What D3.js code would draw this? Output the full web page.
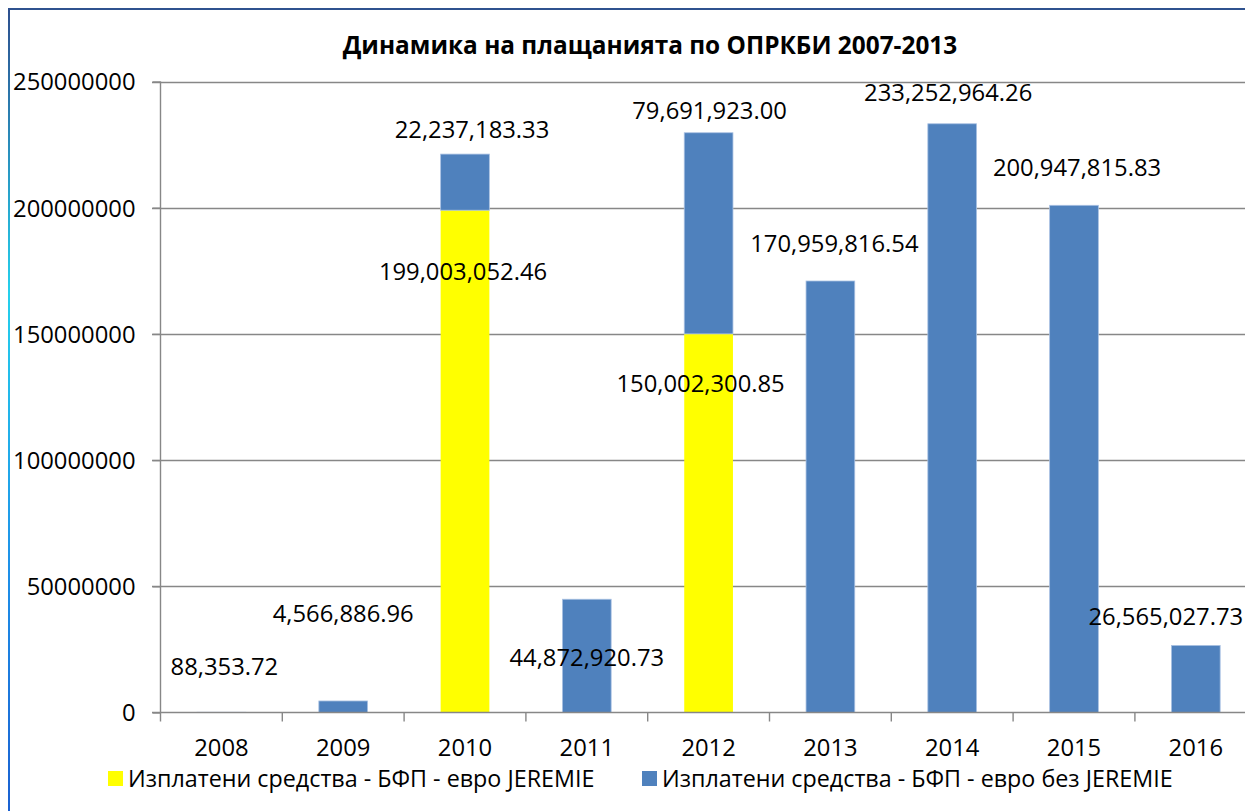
<!DOCTYPE html>
<html>
<head>
<meta charset="utf-8">
<script src="https://cdn.jsdelivr.net/npm/d3@7"></script>
<style>
  body { margin: 0; background: #fff; }
  text { font-family: 'Open Sans', 'Noto Sans', sans-serif; fill: #000; }
</style>
</head>
<body>
<div id="chart"></div>
<script>
// Data
let years = ['2008', '2009', '2010', '2011', '2012', '2013', '2014', '2015', '2016'];
let jeremie = [0, 0, 199003052.46, 0, 150002300.85, 0, 0, 0, 0];
let noJeremie = [88353.72, 4566886.96, 22237183.33, 44872920.73, 79691923.00, 170959816.54, 233252964.26, 200947815.83, 26565027.73];
let yTicks = [0, 50000000, 100000000, 150000000, 200000000, 250000000];
let seriesNames = ['Изплатени средства - БФП - евро JEREMIE', 'Изплатени средства - БФП - евро без JEREMIE'];

// hand placed data labels in the original (dx from band centre, dy from bar top)
let nudgeYellow = [null, null, [-2, 70], null, [-8, 58], null, null, null, null];
let nudgeBlue = [[3, -37], [0, -79], [7, -16], [0, 67], [1, -14], [4, -29], [-4, -23], [3, -29], [-30, -20]];

let width = 1245;
let height = 811;
let colors = ['#FFFF00', '#4F81BD'];

let svg = d3.select('#chart')
	.append('svg')
	.attr('width', width)
	.attr('height', height);

// frame with gradient on left edge
let grad = svg.append('defs').append('linearGradient')
	.attr('id', 'edge')
	.attr('x1', 0).attr('y1', 0).attr('x2', 0).attr('y2', 1);
grad.append('stop').attr('offset', '0%').attr('stop-color', '#2E4F8E');
grad.append('stop').attr('offset', '35%').attr('stop-color', '#25D0EC');
grad.append('stop').attr('offset', '70%').attr('stop-color', '#1E8FE8');
grad.append('stop').attr('offset', '100%').attr('stop-color', '#1A5FD0');

svg.append('rect')
	.attr('x', 9).attr('y', 9)
	.attr('width', 1300).attr('height', 900)
	.attr('fill', 'white')
	.attr('stroke', '#2F528F')
	.attr('stroke-width', 2);
svg.append('rect')
	.attr('x', 8).attr('y', 9)
	.attr('width', 2).attr('height', 810)
	.attr('fill', 'url(#edge)');

// scales
let x = d3.scaleBand()
	.domain(years)
	.range([160.5, 160.5 + 9 * 121.8])
	.padding(0);

let y = d3.scaleLinear()
	.domain([0, 250000000])
	.range([712.5, 81.5]);

let barW = x.bandwidth() * 0.4;
let g = svg.append('g');

// gridlines
g.selectAll('.grid')
	.data(yTicks.slice(1))
	.enter()
	.append('line')
	.attr('x1', 152)
	.attr('x2', 1300)
	.attr('y1', function(d){ return Math.round(y(d)) + 0.5; })
	.attr('y2', function(d){ return Math.round(y(d)) + 0.5; })
	.attr('stroke', '#878787')
	.attr('stroke-width', 1.4);

// bars
let blueBase = years.map(function(d, i){ return jeremie[i]; });
g.selectAll('.yellow')
	.data(years.filter(function(d, i){ return jeremie[i] > 0; }))
	.enter()
	.append('rect')
	.attr('x', function(d){ return x(d) + x.bandwidth() * 0.3; })
	.attr('width', barW)
	.attr('y', function(d){ return y(jeremie[years.indexOf(d)]); })
	.attr('height', function(d){ return y(0) - y(jeremie[years.indexOf(d)]); })
	.attr('fill', colors[0]);

g.selectAll('.blue')
	.data(years)
	.enter()
	.append('rect')
	.attr('x', function(d){ return x(d) + x.bandwidth() * 0.3; })
	.attr('width', barW)
	.attr('y', function(d, i){ return y(blueBase[i] + noJeremie[i]); })
	.attr('height', function(d, i){ return y(blueBase[i]) - y(blueBase[i] + noJeremie[i]); })
	.attr('fill', colors[1])
	.attr('stroke', '#A9C1E2')
	.attr('stroke-width', 0.8);

// axes
let yAxis = d3.axisLeft(y)
	.tickValues(yTicks)
	.tickSize(8)
	.tickFormat(d3.format('d'));
let ya = g.append('g')
	.attr('transform', 'translate(160.5,0)')
	.call(yAxis);
ya.select('.domain').remove();
ya.selectAll('line').attr('stroke', '#878787').attr('stroke-width', 1.4);
ya.selectAll('text')
	.attr('x', -25)
	.attr('dy', '0.35em')
	.attr('font-size', 23.8);

g.append('line')
	.attr('x1', 160.5).attr('x2', 160.5)
	.attr('y1', y(250000000)).attr('y2', y(0) + 9)
	.attr('stroke', '#878787').attr('stroke-width', 1.4);
g.append('line')
	.attr('x1', 152).attr('x2', 1300)
	.attr('y1', y(0)).attr('y2', y(0))
	.attr('stroke', '#878787').attr('stroke-width', 1.4);

g.selectAll('.xtick')
	.data(years)
	.enter()
	.append('line')
	.attr('x1', function(d){ return x(d) + x.bandwidth(); })
	.attr('x2', function(d){ return x(d) + x.bandwidth(); })
	.attr('y1', y(0))
	.attr('y2', y(0) + 9)
	.attr('stroke', '#878787')
	.attr('stroke-width', 1.4);

g.selectAll('.xlab')
	.data(years)
	.enter()
	.append('text')
	.attr('x', function(d){ return x(d) + x.bandwidth() / 2; })
	.attr('y', 756)
	.attr('text-anchor', 'middle')
	.attr('font-size', 23.8)
	.text(function(d){ return d; });

// data labels
let fmt = d3.format(',.2f');
years.forEach(function(d, i){
	let cx = x(d) + x.bandwidth() / 2;
	if(nudgeYellow[i]){
		g.append('text')
		 .attr('x', cx + nudgeYellow[i][0])
		 .attr('y', y(jeremie[i]) + nudgeYellow[i][1])
		 .attr('text-anchor', 'middle')
		 .attr('font-size', 23.8)
		 .text(fmt(jeremie[i]));
	}
	g.append('text')
	 .attr('x', cx + nudgeBlue[i][0])
	 .attr('y', y(blueBase[i] + noJeremie[i]) + nudgeBlue[i][1])
	 .attr('text-anchor', 'middle')
	 .attr('font-size', 23.8)
	 .text(fmt(noJeremie[i]));
});

// title
svg.append('text')
	.attr('x', 650)
	.attr('y', 54)
	.attr('text-anchor', 'middle')
	.attr('font-size', 24.4)
	.attr('font-weight', 'bold')
	.text('Динамика на плащанията по ОПРКБИ 2007-2013');

// legend
let legendX = [108, 642];
seriesNames.forEach(function(name, i){
	svg.append('rect')
	 .attr('x', legendX[i])
	 .attr('y', 771)
	 .attr('width', 15)
	 .attr('height', 15)
	 .attr('fill', colors[i]);
	svg.append('text')
	 .attr('x', legendX[i] + 20)
	 .attr('y', 779)
	 .attr('dy', '0.35em')
	 .attr('font-size', 23.3)
	 .text(name);
});
</script>
</body>
</html>
